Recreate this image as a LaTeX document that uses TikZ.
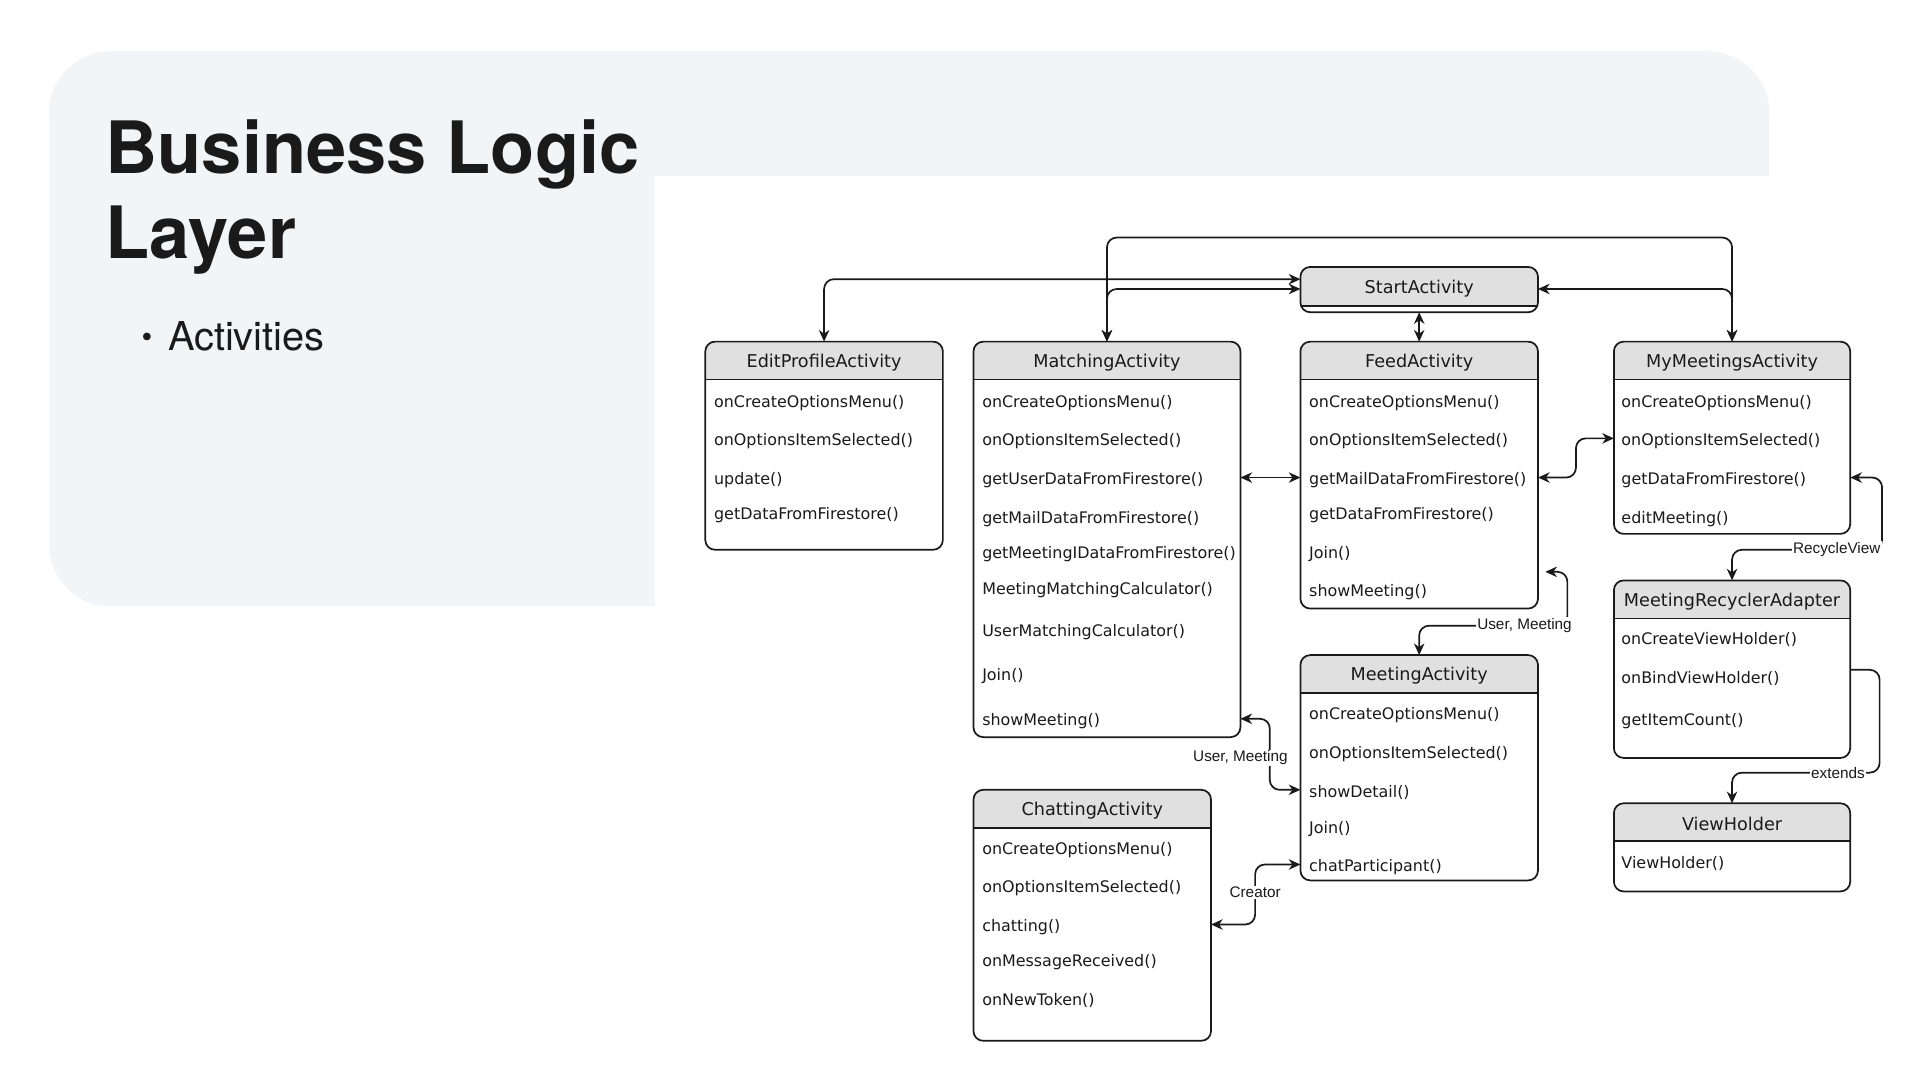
\documentclass[tikz,border=0pt]{standalone}
\usepackage{fontspec}
\setmainfont{TeX Gyre Heros}
\newfontfamily\dvfont{DejaVu Sans}
\newfontfamily\lbfont{Liberation Sans}
\usetikzlibrary{arrows.meta,calc}
\definecolor{bgpanel}{HTML}{F2F5F8}
\definecolor{hdrgray}{HTML}{E0E0E0}
\definecolor{ink}{HTML}{1A1A1A}
\tikzset{
  hdrh/.store in=\hdrh, hdrh=31,
  cls/.style={draw=ink, line width=1.4pt, rounded corners=8pt, fill=white,
    inner sep=0pt, outer sep=0pt,
    path picture={
      \fill[hdrgray, sharp corners] (path picture bounding box.north west) rectangle ([yshift=-\hdrh pt]path picture bounding box.north east);
      \draw[ink, line width=1.4pt, sharp corners] ([yshift=-\hdrh pt]path picture bounding box.north west) -- ([yshift=-\hdrh pt]path picture bounding box.north east);
    }},
  hdrtxt/.style={font=\dvfont\fontsize{14.4}{16}\selectfont, text=ink, inner sep=0pt, yshift=-1.5pt},
  meth/.style={font=\dvfont\fontsize{13}{15}\selectfont, text=ink, anchor=west, inner sep=0pt, text height=10pt, text depth=3pt, yshift=-2pt},
  lbl/.style={font=\lbfont\fontsize{12.5}{14}\selectfont, text=ink, fill=white, inner sep=1pt},
  ctip/.tip={Stealth[length=9.5pt,width=8.5pt,inset=3pt]},
  conn/.style={draw=ink, line width=1.4pt, rounded corners=8pt},
}
\newcommand\ubox[7]{%
  \node[cls, hdrh=#6, minimum width={(#4-#2)*1pt}, minimum height={(#5-#3)*1pt}] (#1) at ({(#2+#4)/2},{(#3+#5)/2}) {};
  \node[hdrtxt] (#1-title) at ({(#2+#4)/2},{#3+#6/2}) {#7};
}
\newcommand\umeth[4]{\node[meth] (#1) at (#2,#3) {#4};}
\begin{document}
\begin{tikzpicture}[x=1pt,y=-1pt]
\useasboundingbox (0,0) rectangle (1568,882);
\fill[white] (0,0) rectangle (1568,882);
% background panel
\fill[bgpanel] (90,42) rectangle (1395,143.5);
\fill[bgpanel] (40,91) rectangle (1445,143.5);
\fill[bgpanel] (90,92) circle (50);
\fill[bgpanel] (1395,92) circle (50);
\fill[bgpanel] (40,91) rectangle (535,446);
\fill[bgpanel] (89,91) rectangle (535,495);
\fill[bgpanel] (90,445) circle (50);
% title
\node[anchor=base west, inner sep=0pt, text=ink, font=\bfseries\fontsize{59}{70}\selectfont] (title1) at (86,142) {Business Logic};
\node[anchor=base west, inner sep=0pt, text=ink, font=\bfseries\fontsize{59}{70}\selectfont] (title2) at (86,211) {Layer};
\node[inner sep=0pt, text=ink, font=\fontsize{25}{25}\selectfont] (bullet) at (120,278) {\textbullet};
\node[anchor=base west, inner sep=0pt, text=ink, font=\fontsize{32.5}{36}\selectfont] (act) at (137,286) {Activities};
% boxes
\ubox{start}{1062}{218}{1256}{255}{32}{StartActivity}
\ubox{edit}{576}{279}{770}{449}{31}{EditProfileActivity}
\umeth{edit1}{583}{327}{onCreateOptionsMenu()}
\umeth{edit2}{583}{358}{onOptionsItemSelected()}
\umeth{edit3}{583}{390}{update()}
\umeth{edit4}{583}{419}{getDataFromFirestore()}
\ubox{match}{795}{279}{1013}{602}{31}{MatchingActivity}
\umeth{match1}{802}{327}{onCreateOptionsMenu()}
\umeth{match2}{802}{358}{onOptionsItemSelected()}
\umeth{match3}{802}{390}{getUserDataFromFirestore()}
\umeth{match4}{802}{422}{getMailDataFromFirestore()}
\umeth{match5}{802}{451}{getMeetingIDataFromFirestore()}
\umeth{match6}{802}{480}{MeetingMatchingCalculator()}
\umeth{match7}{802}{514}{UserMatchingCalculator()}
\umeth{match8}{802}{550}{Join()}
\umeth{match9}{802}{587}{showMeeting()}
\ubox{feed}{1062}{279}{1256}{497}{31}{FeedActivity}
\umeth{feed1}{1069}{327}{onCreateOptionsMenu()}
\umeth{feed2}{1069}{358}{onOptionsItemSelected()}
\umeth{feed3}{1069}{390}{getMailDataFromFirestore()}
\umeth{feed4}{1069}{419}{getDataFromFirestore()}
\umeth{feed5}{1069}{451}{Join()}
\umeth{feed6}{1069}{482}{showMeeting()}
\ubox{mymeet}{1318}{279}{1511}{436}{31}{MyMeetingsActivity}
\umeth{mymeet1}{1324}{327}{onCreateOptionsMenu()}
\umeth{mymeet2}{1324}{358}{onOptionsItemSelected()}
\umeth{mymeet3}{1324}{390}{getDataFromFirestore()}
\umeth{mymeet4}{1324}{422}{editMeeting()}
\ubox{mra}{1318}{474}{1511}{619}{31}{MeetingRecyclerAdapter}
\umeth{mra1}{1324}{521}{onCreateViewHolder()}
\umeth{mra2}{1324}{553}{onBindViewHolder()}
\umeth{mra3}{1324}{587}{getItemCount()}
\ubox{vh}{1318}{656}{1511}{728}{31}{ViewHolder}
\umeth{vh1}{1324}{704}{ViewHolder()}
\ubox{meet}{1062}{535}{1256}{719}{31}{MeetingActivity}
\umeth{meet1}{1069}{582}{onCreateOptionsMenu()}
\umeth{meet2}{1069}{614}{onOptionsItemSelected()}
\umeth{meet3}{1069}{646}{showDetail()}
\umeth{meet4}{1069}{675}{Join()}
\umeth{meet5}{1069}{706}{chatParticipant()}
\ubox{chat}{795}{645}{989}{850}{31}{ChattingActivity}
\umeth{chat1}{802}{692}{onCreateOptionsMenu()}
\umeth{chat2}{802}{723}{onOptionsItemSelected()}
\umeth{chat3}{802}{755}{chatting()}
\umeth{chat4}{802}{784}{onMessageReceived()}
\umeth{chat5}{802}{816}{onNewToken()}
% connectors
\draw[conn, ctip-ctip] ($(start.north west)+(0,10)$) -| (edit.north);
\draw[conn, ctip-ctip] ($(start.north west)+(0,18)$) -| (match.north);
\draw[conn, ctip-ctip] (match.north) -- ++(0,-85) -| (mymeet.north);
\draw[conn, ctip-ctip] ($(start.north east)+(0,18)$) -| (mymeet.north);
\draw[conn, ctip-ctip] (start.south) -- (feed.north);
\draw[conn, ctip-ctip] ($(match.north east)+(0,111)$) -- ($(feed.north west)+(0,111)$);
\draw[conn, ctip-ctip] ($(feed.north east)+(0,111)$) -- ++(31,0) -- ++(0,-32) -- ($(mymeet.north west)+(0,79)$);
\draw[conn, ctip-ctip] ($(mymeet.north east)+(0,111)$) -- ++(26,0) -- ++(0,59) -| (mra.north);
\node[lbl] (lblrv) at (1500,449) {RecycleView};
\draw[conn, -ctip] ($(mra.north east)+(0,73)$) -- ++(24,0) -- ++(0,84) -| (vh.north);
\node[lbl] (lblext) at (1501,631) {extends};
\draw[conn, ctip-ctip] ($(feed.south east)+(6,-30)$) -- ++(18,0) -- ++(0,44) -| (meet.north);
\node[lbl] (lblum1) at (1245,511) {User, Meeting};
\draw[conn, ctip-ctip] ($(match.south east)+(0,-15)$) -- ++(24,0) |- ($(meet.north west)+(0,110)$);
\node[lbl] (lblum2) at (1013,619) {User, Meeting};
\draw[conn, ctip-ctip] ($(meet.north west)+(0,171)$) -- ++(-37,0) |- ($(chat.north east)+(0,110)$);
\node[lbl] (lblcr) at (1025,729) {Creator};
\end{tikzpicture}
\end{document}
